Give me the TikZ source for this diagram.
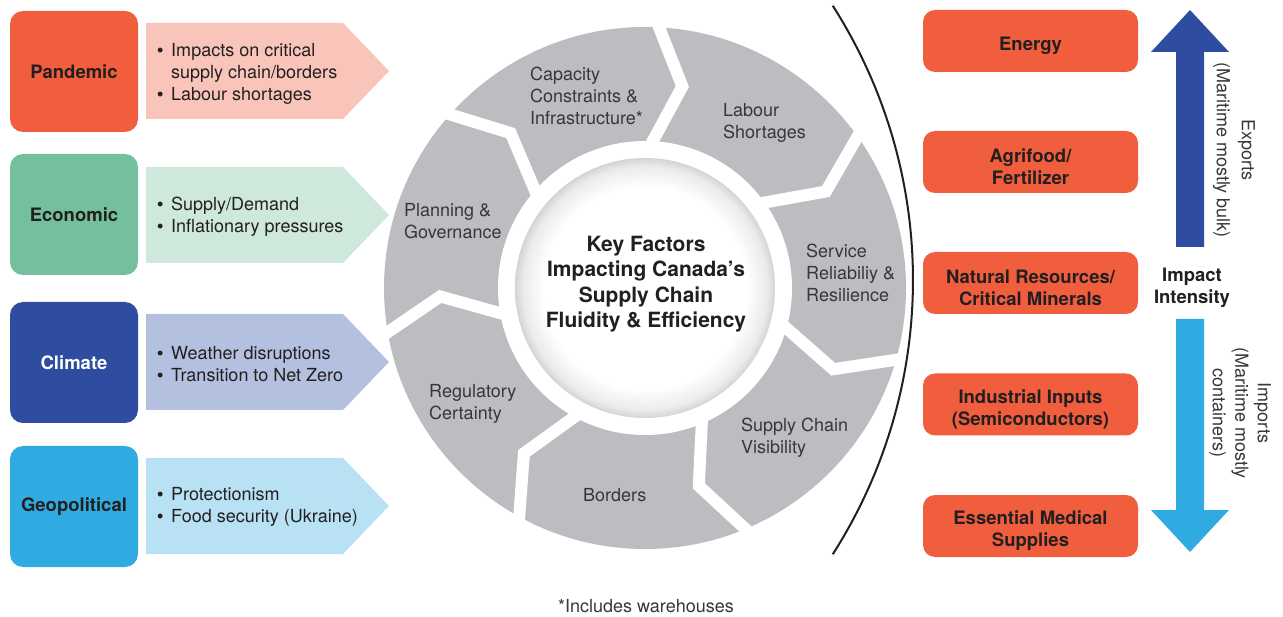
\documentclass[tikz,border=0pt]{standalone}
\usepackage{fontspec}
\setmainfont{TeX Gyre Heros}
\newfontfamily\bulfont{Liberation Sans}
\usetikzlibrary{calc}
\definecolor{orangeR}{RGB}{241,94,62}
\definecolor{greenB}{RGB}{116,192,156}
\definecolor{blueB}{RGB}{46,77,160}
\definecolor{cyanB}{RGB}{47,171,226}
\definecolor{pinkA}{RGB}{249,197,186}
\definecolor{greenA}{RGB}{206,232,219}
\definecolor{blueA}{RGB}{180,192,223}
\definecolor{cyanA}{RGB}{184,226,244}
\definecolor{segGray}{RGB}{188,189,192}
\definecolor{txtDark}{RGB}{35,31,32}
\definecolor{segTxt}{RGB}{55,55,57}
\pgfdeclareradialshading{diskshade}{\pgfpoint{0bp}{0bp}}{color(0bp)=(white); color(19.5bp)=(white); color(23.5bp)=(black!8); color(25bp)=(black!17); color(50bp)=(black!17)}
\newcommand\bulit{\makebox[14pt][l]{{\bulfont •}}}
\newcommand\bulsp{\makebox[14pt]{}}
\begin{document}
\begin{tikzpicture}[x=1pt,y=1pt,
  catbox/.style={rounded corners=13pt, minimum width=128pt, minimum height=121pt, inner sep=0pt, font=\bfseries\fontsize{18.5}{22}\selectfont, text=txtDark},
  impbox/.style={rounded corners=12pt, minimum width=215pt, minimum height=62pt, fill=orangeR, inner sep=0pt},
  imptext/.style={align=center, inner sep=0pt, font=\bfseries\fontsize{18.5}{22}\selectfont, text=txtDark},
  bullets/.style={anchor=west, align=left, inner sep=0pt, font=\fontsize{18}{22}\selectfont, text=txtDark},
  seglabel/.style={anchor=west, align=left, inner sep=0pt, font=\fontsize{18}{22}\selectfont, text=segTxt},
  gapline/.style={white, line width=12pt, line join=miter}
]
\useasboundingbox (0,0) rectangle (1283,-617);

% wheel
\coordinate (C) at (645,-288);
\fill[segGray] (C) circle[radius=261];
\foreach \k in {0,...,6}{
  \pgfmathsetmacro\a{87-\k*360/7}
  \pgfmathsetmacro\b{\a-7.5}
  \coordinate (gi) at ($(C)+(\a:147)$);
  \coordinate (gt) at ($(C)+(\b:205)$);
  \coordinate (go) at ($(C)+(\a:262)$);
  \draw[gapline] ($(gt)!1.4!(gi)$) -- (gt) -- ($(gt)!1.4!(go)$);
}
\fill[white] (C) circle[radius=147];
\shade[shading=diskshade] (C) circle[radius=130];

\node[align=center, inner sep=0pt, font=\bfseries\fontsize{21}{25.5}\selectfont, text=txtDark] (title) at (646,-284) {Key Factors\\Impacting Canada’s\\Supply Chain\\Fluidity \& Efficiency};

\node[seglabel] (capacity) at (530,-95.5) {Capacity\\Constraints \&\\Infrastructure*};
\node[seglabel] (labour) at (723,-122.5) {Labour\\Shortages};
\node[seglabel] (service) at (806,-273) {Service\\Reliabiliy \&\\Resilience};
\node[seglabel] (visibility) at (741,-438) {Supply Chain\\Visibility};
\node[seglabel] (borders) at (583,-495) {Borders};
\node[seglabel] (regulatory) at (429,-403.5) {Regulatory\\Certainty};
\node[seglabel] (planning) at (404,-221) {Planning \&\\Governance};

\node[seglabel] (note) at (558,-606) {*Includes warehouses};

% separating arc
\draw[line width=2pt, txtDark] (404,-280) ++(32.6:509) arc[start angle=32.6, end angle=-32.6, radius=509];

% left categories
\fill[pinkA] (146,-23) -- (343,-23) -- (389,-71) -- (343,-119) -- (146,-119) -- cycle;
\fill[greenA] (146,-167) -- (343,-167) -- (389,-215) -- (343,-263) -- (146,-263) -- cycle;
\fill[blueA] (146,-314) -- (343,-314) -- (389,-362) -- (343,-410) -- (146,-410) -- cycle;
\fill[cyanA] (146,-458) -- (343,-458) -- (389,-506) -- (343,-554) -- (146,-554) -- cycle;

\node[catbox, fill=orangeR] (pandemic) at (74,-71.5) {Pandemic};
\node[catbox, fill=greenB] (economic) at (74,-214.5) {Economic};
\node[catbox, fill=blueB, text=white] (climate) at (74,-362.5) {Climate};
\node[catbox, fill=cyanB] (geo) at (74,-506.5) {Geopolitical};

\node[bullets] (pandemicTxt) at (157,-73.5) {\bulit Impacts on critical\\\bulsp supply chain/borders\\\bulit Labour shortages};
\node[bullets] (economicTxt) at (157,-216.5) {\bulit Supply/Demand\\\bulit Inflationary pressures};
\node[bullets] (climateTxt) at (157,-364) {\bulit Weather disruptions\\\bulit Transition to Net Zero};
\node[bullets] (geoTxt) at (157,-507) {\bulit Protectionism\\\bulit Food security (Ukraine)};

% right side
\node[impbox] (energy) at (1030.5,-41) {};
\node[impbox] (agri) at (1030.5,-162) {};
\node[impbox] (natural) at (1030.5,-283) {};
\node[impbox] (industrial) at (1030.5,-404.5) {};
\node[impbox] (medical) at (1030.5,-526) {};
\node[imptext] (energyTxt) at ([yshift=-4.5pt]energy.center) {Energy};
\node[imptext] (agriTxt) at ([yshift=-4.5pt]agri.center) {Agrifood/\\Fertilizer};
\node[imptext] (naturalTxt) at ([yshift=-4.5pt]natural.center) {Natural Resources/\\Critical Minerals};
\node[imptext] (industrialTxt) at ([yshift=-5pt]industrial.center) {Industrial Inputs\\(Semiconductors)};
\node[imptext] (medicalTxt) at ([yshift=-5pt]medical.center) {Essential Medical\\Supplies};

\fill[blueB] (1176,-247) -- (1176,-52) -- (1151,-52) -- (1190,-10) -- (1229,-52) -- (1204,-52) -- (1204,-247) -- cycle;
\fill[cyanB] (1176,-319) -- (1204,-319) -- (1204,-510) -- (1229,-510) -- (1190,-552) -- (1151,-510) -- (1176,-510) -- cycle;

\node[imptext] (impact) at (1192,-288) {Impact\\Intensity};
\node[rotate=-90, align=center, inner sep=0pt, font=\fontsize{18}{25}\selectfont, text=segTxt] (exports) at (1234,-150) {Exports\\(Maritime mostly bulk)};
\node[rotate=-90, align=center, inner sep=0pt, font=\fontsize{18}{22.5}\selectfont, text=segTxt] (imports) at (1240,-413) {Imports\\(Maritime mostly\\containers)};
\end{tikzpicture}
\end{document}
